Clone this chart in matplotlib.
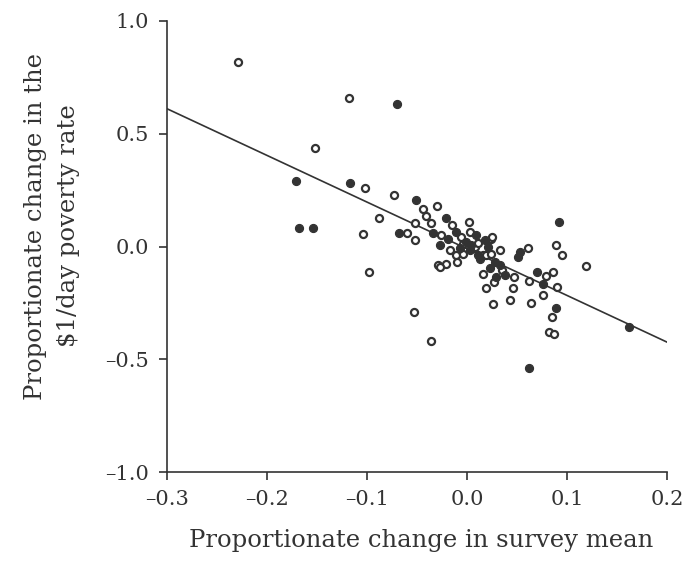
import matplotlib
matplotlib.use("Agg")
import matplotlib.pyplot as plt
import numpy as np

# Open-marker countries (x: proportionate change in survey mean, y: change in poverty rate)
open_x = [-0.229, -0.118, -0.152, -0.102, -0.073, -0.088, -0.104, -0.098, -0.053, -0.036,
          -0.060, -0.044, -0.030, -0.041, -0.052, -0.036, -0.015, 0.002, -0.052, -0.026,
          -0.006, -0.004, 0.024, 0.016, 0.019, 0.024, -0.017, -0.011, -0.004, 0.008,
          -0.029, -0.021, -0.027, -0.010, 0.016, 0.025, 0.061, 0.089, 0.095, 0.119,
          0.027, 0.019, 0.046, 0.047, 0.079, 0.086, 0.062, 0.090, 0.076, 0.043,
          0.026, 0.064, 0.085, 0.082, 0.087, 0.035, 0.033, 0.003, 0.011]
open_y = [0.818, 0.658, 0.437, 0.259, 0.228, 0.126, 0.055, -0.113, -0.290, -0.419,
          0.060, 0.166, 0.180, 0.135, 0.104, 0.104, 0.095, 0.109, 0.029, 0.051,
          0.042, 0.011, 0.033, -0.038, -0.038, -0.033, -0.016, -0.038, -0.033, -0.002,
          -0.082, -0.078, -0.091, -0.069, -0.122, 0.042, -0.007, 0.007, -0.038, -0.086,
          -0.157, -0.184, -0.184, -0.135, -0.131, -0.113, -0.153, -0.180, -0.215, -0.237,
          -0.255, -0.251, -0.313, -0.379, -0.388, -0.104, -0.016, 0.064, 0.016]

# Filled-marker countries
fill_x = [-0.070, -0.171, -0.117, -0.051, -0.021, -0.168, -0.154, -0.068, -0.034, -0.011,
          0.004, 0.009, 0.018, 0.021, 0.013, 0.028, 0.033, -0.019, -0.001, 0.003,
          0.051, 0.053, 0.070, 0.076, 0.089, 0.092, 0.162, 0.062, 0.029, 0.038,
          0.023, -0.007, 0.011, -0.027]
fill_y = [0.632, 0.290, 0.282, 0.206, 0.126, 0.082, 0.082, 0.060, 0.060, 0.064,
          0.007, 0.051, 0.029, -0.002, -0.055, -0.069, -0.082, 0.033, 0.020, -0.016,
          -0.047, -0.024, -0.113, -0.166, -0.273, 0.109, -0.357, -0.539, -0.135, -0.126,
          -0.095, -0.007, -0.038, 0.007]

# Fitted regression line
fit_intercept = -0.01
fit_slope = -2.07
fit_x = [-0.3, 0.2]

x_ticks = [-0.3, -0.2, -0.1, 0.0, 0.1, 0.2]
y_ticks = [-1.0, -0.5, 0.0, 0.5, 1.0]

x_label = "Proportionate change in survey mean"
y_label = "Proportionate change in the\n\\$1/day poverty rate"

ink = "#333333"
plt.rcParams['font.family'] = ['DejaVu Serif']

fig = plt.figure(figsize=(6.88, 5.63), dpi=100)
ax = fig.add_axes([0.2427, 0.1616, 0.7268, 0.8011])

fx = np.array(fit_x)
ax.plot(fx, fit_intercept + fit_slope * fx, color=ink, lw=1.2, zorder=2)

ax.scatter(open_x, open_y, s=26, marker='o', facecolor='white', edgecolor=ink,
           linewidths=1.6, zorder=3)
ax.scatter(fill_x, fill_y, s=34, marker='o', facecolor=ink, edgecolor=ink,
           linewidths=0.8, zorder=4)

ax.set_xlim(-0.3, 0.2)
ax.set_ylim(-1.0, 1.0)
ax.set_xticks(x_ticks)
ax.set_yticks(y_ticks)
ax.set_xticklabels([f"{v:.1f}".replace("-", "\u2013") for v in x_ticks])
ax.set_yticklabels([f"{v:.1f}".replace("-", "\u2013") for v in y_ticks])

for s in ['top', 'right']:
    ax.spines[s].set_visible(False)
for s in ['left', 'bottom']:
    ax.spines[s].set_color(ink)
    ax.spines[s].set_linewidth(1.2)
ax.tick_params(direction='out', length=6, width=1.2, color=ink,
               labelsize=15, labelcolor=ink, pad=7)

fig.text(421 / 688, 1 - 540 / 563, x_label, fontsize=17.5, color=ink,
         ha='center', va='center')
fig.text(52 / 688, 1 - 226 / 563, y_label, fontsize=17.5, color=ink,
         ha='center', va='center', rotation=90, multialignment='center',
         linespacing=1.6)

fig.savefig("out.png", dpi=100, facecolor='white')
